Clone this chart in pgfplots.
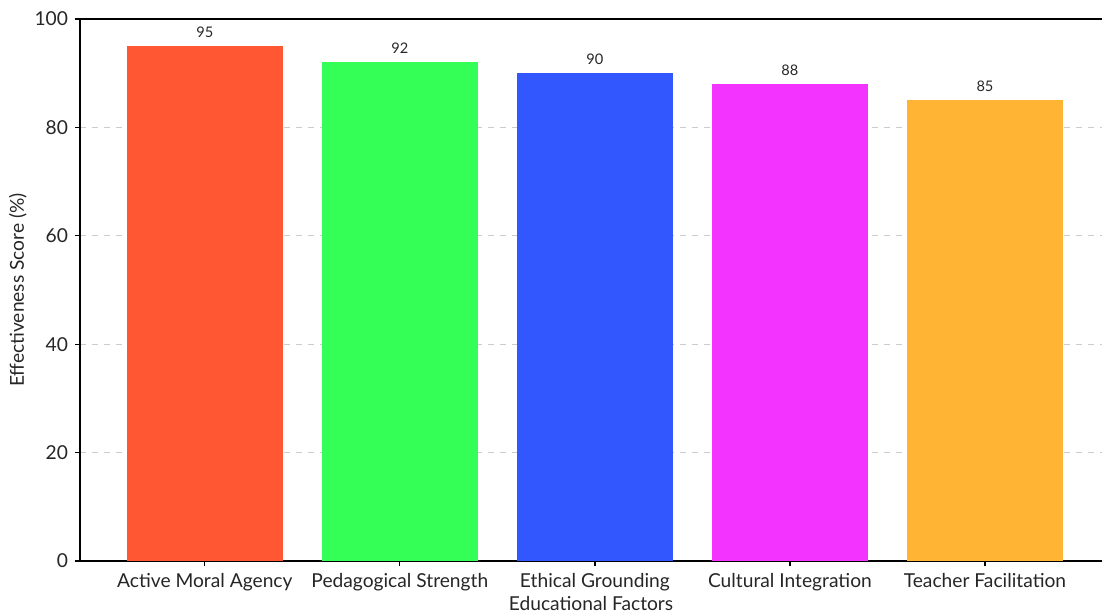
\documentclass[border=0pt]{standalone}
\usepackage{pgfplots}
\pgfplotsset{compat=1.18}
\usepackage{fontspec}
\setmainfont{Lato}
\definecolor{c1}{HTML}{FF5733}
\definecolor{c2}{HTML}{33FF57}
\definecolor{c3}{HTML}{3357FF}
\definecolor{c4}{HTML}{F333FF}
\definecolor{c5}{HTML}{FFB533}
\definecolor{gridc}{HTML}{CCCCCC}
\begin{document}
\begin{tikzpicture}
\begin{axis}[
  scale only axis,
  width=511pt, height=271pt,
  xmin=-0.64, xmax=4.6,
  ymin=0, ymax=100,
  ytick={0,20,40,60,80,100},
  xtick={0,1,2,3,4},
  xticklabels={Active Moral Agency,Pedagogical Strength,Ethical Grounding,Cultural Integration,Teacher Facilitation},
  axis x line*=bottom, axis y line*=left,
  axis line style={-, line width=0.6pt, black},
  tick style={black, line width=0.6pt},
  major tick length=2.5pt,
  tick align=outside,
  ymajorgrids,
  major grid style={gridc, dashed, line width=0.5pt},
  tick label style={font=\fontsize{9.6}{10}\selectfont, text=black!85},
  /pgf/number format/assume math mode=true,
  xlabel={Educational Factors},
  ylabel={Effectiveness Score (\%)},
  label style={font=\fontsize{9.6}{10}\selectfont, text=black!85},
  xlabel style={yshift=4pt},
  ylabel style={yshift=-3pt},
  ybar, bar width=0.8,
  bar shift=0pt,
  nodes near coords,
  every node near coord/.append style={font=\fontsize{7.3}{8}\selectfont, text=black!85, yshift=0.8pt},
  after end axis/.code={
    \draw[line width=0.6pt] (rel axis cs:0,1) -- (rel axis cs:1,1);
    \coordinate (O) at (rel axis cs:0,0);
  },
]
\addplot[fill=c1, draw=none] coordinates {(0,95)};
\addplot[fill=c2, draw=none] coordinates {(1,92)};
\addplot[fill=c3, draw=none] coordinates {(2,90)};
\addplot[fill=c4, draw=none] coordinates {(3,88)};
\addplot[fill=c5, draw=none] coordinates {(4,85)};
\end{axis}
\pgfresetboundingbox
\path ([shift={(-40pt,-25.5pt)}]O) rectangle ([shift={(511pt,280.5pt)}]O);
\end{tikzpicture}
\end{document}
